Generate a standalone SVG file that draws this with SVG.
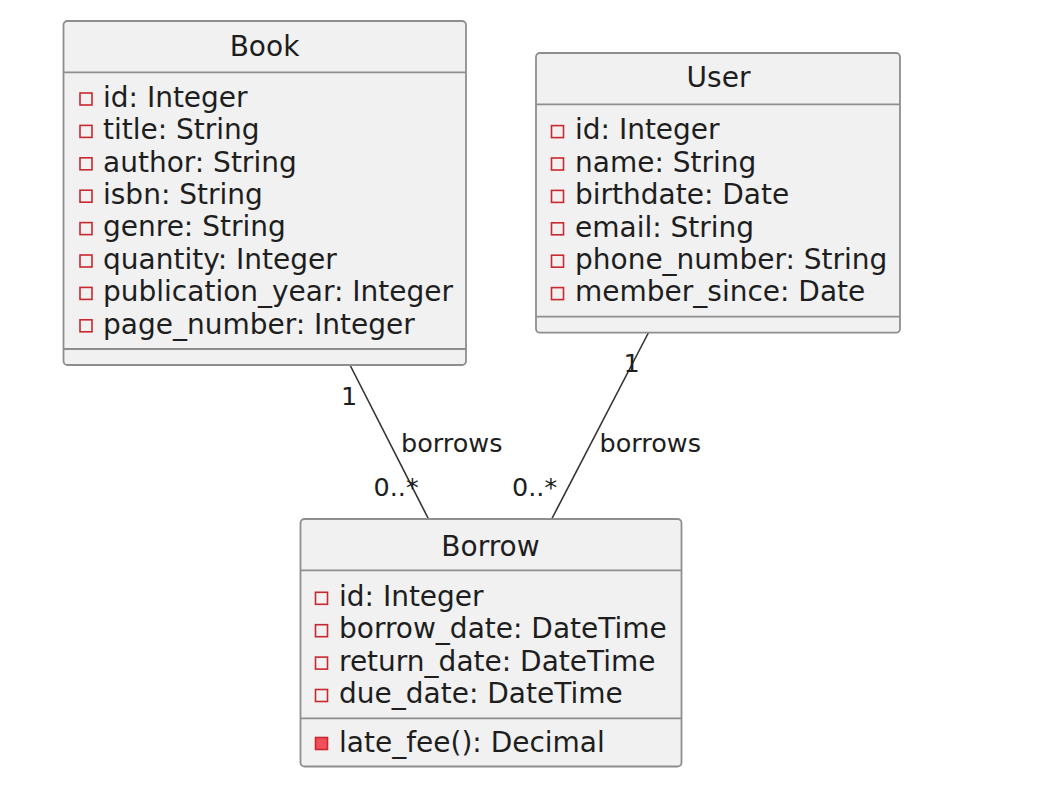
<svg xmlns="http://www.w3.org/2000/svg" width="1038" height="786" viewBox="0 0 1038 786">
<style>
.box{fill:#F1F1F1;stroke:#8E8E8E;stroke-width:1.8}
.sep{stroke:#8E8E8E;stroke-width:1.8}
.t{font-family:"DejaVu Sans",Verdana,sans-serif;font-size:28px;fill:#1E1E1E}
.title{text-anchor:middle}
.lbl{font-family:"DejaVu Sans",Verdana,sans-serif;font-size:25.5px;fill:#1E1E1E}
.priv{fill:none;stroke:#C82930;stroke-width:1.6}
.privm{fill:#F24D5C;stroke:#C82930;stroke-width:1.6}
.edge{stroke:#333333;stroke-width:1.6;fill:none}
</style>
<rect width="1038" height="786" fill="#FFFFFF"/>
<g id="connectors">
<line class="edge" x1="350.5" y1="366" x2="428.5" y2="519"/>
<line class="edge" x1="648.3" y1="333" x2="551.7" y2="519"/>
<text class="lbl" x="341" y="405">1</text>
<text class="lbl" x="401" y="451.5">borrows</text>
<text class="lbl" x="373.5" y="495.5">0..*</text>
<text class="lbl" x="623.5" y="371.5">1</text>
<text class="lbl" x="599.5" y="451.5">borrows</text>
<text class="lbl" x="512" y="495.5">0..*</text>
</g>
<g id="Book">
<rect class="box" x="63.5" y="21" width="402.5" height="344" rx="4"/>
<line class="sep" x1="63.5" y1="72.3" x2="466" y2="72.3"/>
<line class="sep" x1="63.5" y1="349" x2="466" y2="349"/>
<text class="t title" x="264.5" y="55.7">Book</text>
<g class="priv">
<rect x="80" y="93" width="12" height="12"/>
<rect x="80" y="125.4" width="12" height="12"/>
<rect x="80" y="157.8" width="12" height="12"/>
<rect x="80" y="190.2" width="12" height="12"/>
<rect x="80" y="222.6" width="12" height="12"/>
<rect x="80" y="255" width="12" height="12"/>
<rect x="80" y="287.4" width="12" height="12"/>
<rect x="80" y="319.8" width="12" height="12"/>
</g>
<text class="t" x="103" y="106.7">id: Integer</text>
<text class="t" x="103" y="139.1">title: String</text>
<text class="t" x="103" y="171.5">author: String</text>
<text class="t" x="103" y="203.9">isbn: String</text>
<text class="t" x="103" y="236.3">genre: String</text>
<text class="t" x="103" y="268.7">quantity: Integer</text>
<text class="t" x="103" y="301.1">publication_year: Integer</text>
<text class="t" x="103" y="333.5">page_number: Integer</text>
</g>
<g id="User">
<rect class="box" x="536" y="53" width="364" height="279.7" rx="4"/>
<line class="sep" x1="536" y1="104.3" x2="900" y2="104.3"/>
<line class="sep" x1="536" y1="316.7" x2="900" y2="316.7"/>
<text class="t title" x="718.5" y="87.3">User</text>
<g class="priv">
<rect x="551.5" y="125.6" width="12" height="12"/>
<rect x="551.5" y="158" width="12" height="12"/>
<rect x="551.5" y="190.4" width="12" height="12"/>
<rect x="551.5" y="222.8" width="12" height="12"/>
<rect x="551.5" y="255.2" width="12" height="12"/>
<rect x="551.5" y="287.6" width="12" height="12"/>
</g>
<text class="t" x="575" y="139.3">id: Integer</text>
<text class="t" x="575" y="171.7">name: String</text>
<text class="t" x="575" y="204.1">birthdate: Date</text>
<text class="t" x="575" y="236.5">email: String</text>
<text class="t" x="575" y="268.9">phone_number: String</text>
<text class="t" x="575" y="301.3">member_since: Date</text>
</g>
<g id="Borrow">
<rect class="box" x="300.5" y="519" width="381" height="247.5" rx="4"/>
<line class="sep" x1="300.5" y1="570.3" x2="681.5" y2="570.3"/>
<line class="sep" x1="300.5" y1="718.3" x2="681.5" y2="718.3"/>
<text class="t title" x="490.5" y="556">Borrow</text>
<g class="priv">
<rect x="315.5" y="592.3" width="12" height="12"/>
<rect x="315.5" y="624.7" width="12" height="12"/>
<rect x="315.5" y="657.1" width="12" height="12"/>
<rect x="315.5" y="689.5" width="12" height="12"/>
</g>
<rect class="privm" x="315.5" y="737.5" width="12" height="12"/>
<text class="t" x="339" y="606">id: Integer</text>
<text class="t" x="339" y="638.4">borrow_date: DateTime</text>
<text class="t" x="339" y="670.8">return_date: DateTime</text>
<text class="t" x="339" y="703.2">due_date: DateTime</text>
<text class="t" x="339" y="751.7">late_fee(): Decimal</text>
</g>
</svg>
